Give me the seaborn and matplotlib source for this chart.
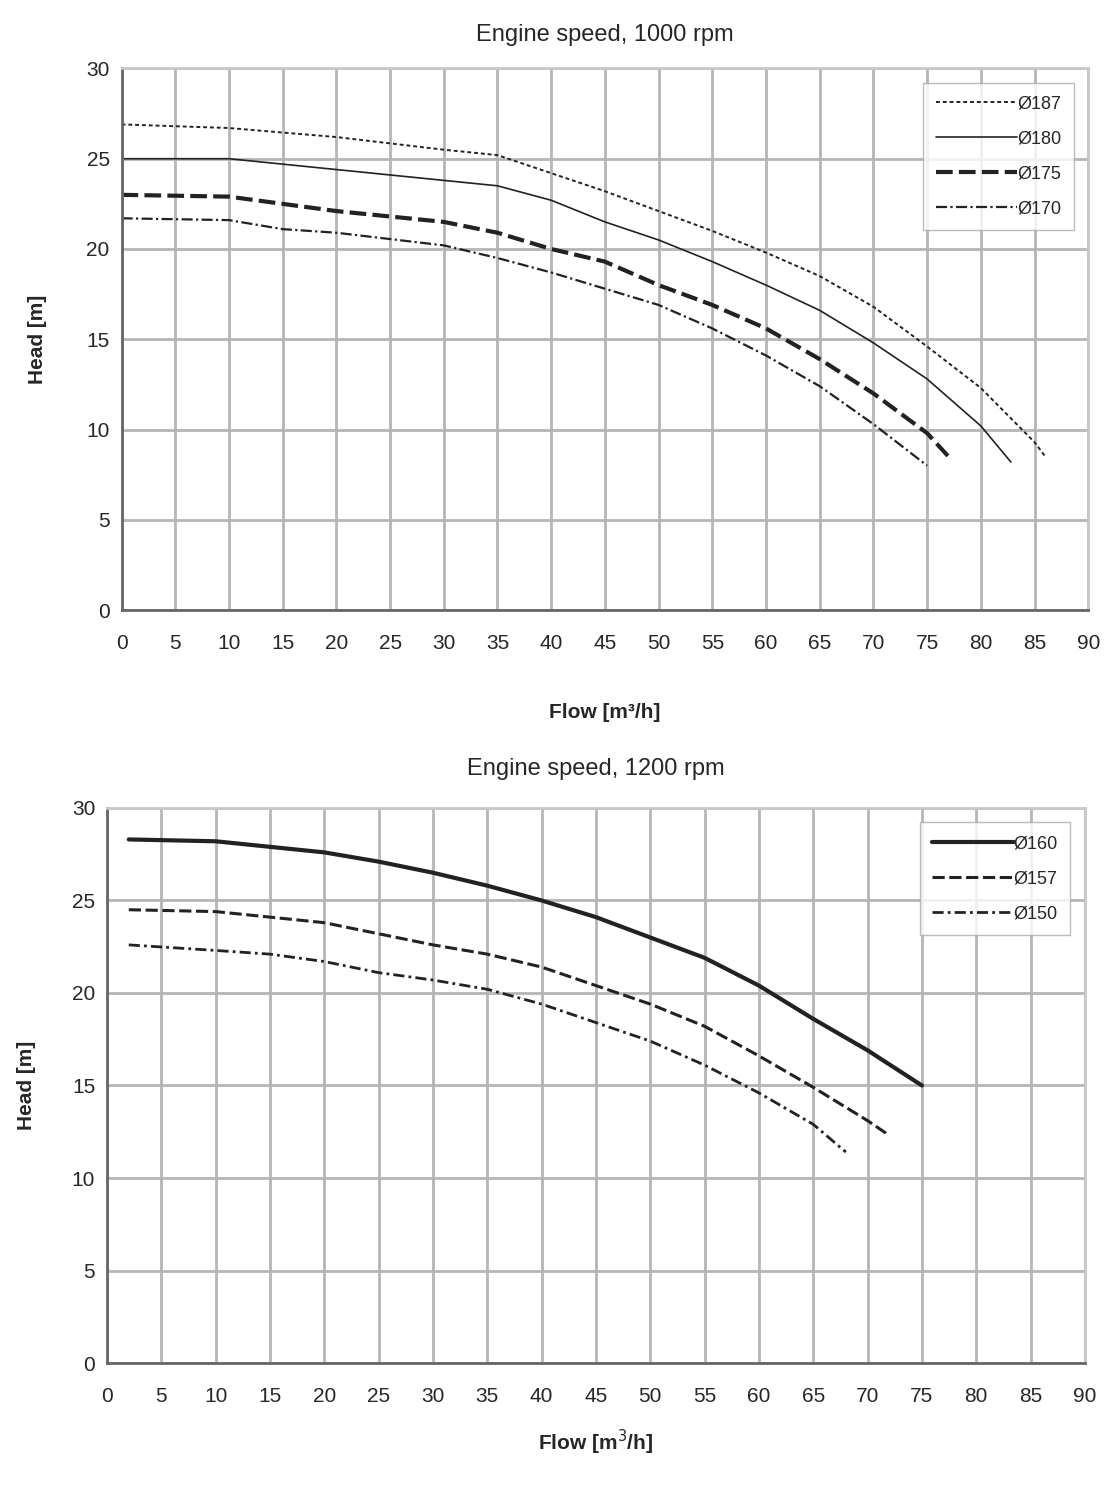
import matplotlib

matplotlib.use("Agg")
import matplotlib.pyplot as plt
import numpy as np
import pandas as pd
import seaborn as sns

sns.set_style("white")
plt.rcParams["font.family"] = ["Liberation Sans", "DejaVu Sans"]

# Engine speed 1000 rpm
flow_187 = [0, 10, 20, 30, 35, 40, 45, 50, 55, 60, 65, 70, 75, 80, 85, 86]
head_187 = [26.9, 26.7, 26.2, 25.5, 25.2, 24.2, 23.2, 22.1, 21.0, 19.8, 18.5, 16.8, 14.6, 12.3, 9.3, 8.5]
flow_180 = [0, 10, 20, 30, 35, 40, 45, 50, 55, 60, 65, 70, 75, 80, 82.8]
head_180 = [25.0, 25.0, 24.4, 23.8, 23.5, 22.7, 21.5, 20.5, 19.3, 18.0, 16.6, 14.8, 12.8, 10.2, 8.2]
flow_175 = [0, 10, 20, 30, 35, 40, 45, 50, 55, 60, 65, 70, 75, 77.3]
head_175 = [23.0, 22.9, 22.1, 21.5, 20.9, 20.0, 19.3, 18.0, 16.9, 15.6, 13.9, 12.0, 9.8, 8.3]
flow_170 = [0, 10, 15, 20, 30, 35, 40, 45, 50, 55, 60, 65, 70, 75]
head_170 = [21.7, 21.6, 21.1, 20.9, 20.2, 19.5, 18.7, 17.8, 16.9, 15.6, 14.1, 12.4, 10.3, 8.0]

# Engine speed 1200 rpm
flow_160 = [2, 10, 15, 20, 25, 30, 35, 40, 45, 50, 55, 60, 65, 70, 75]
head_160 = [28.3, 28.2, 27.9, 27.6, 27.1, 26.5, 25.8, 25.0, 24.1, 23.0, 21.9, 20.4, 18.6, 16.9, 15.0]
flow_157 = [2, 10, 20, 25, 30, 35, 40, 45, 50, 55, 60, 65, 70, 72]
head_157 = [24.5, 24.4, 23.8, 23.2, 22.6, 22.1, 21.4, 20.4, 19.4, 18.2, 16.6, 14.9, 13.1, 12.3]
flow_150 = [2, 10, 15, 20, 25, 30, 35, 40, 45, 50, 55, 60, 65, 68]
head_150 = [22.6, 22.3, 22.1, 21.7, 21.1, 20.7, 20.2, 19.4, 18.4, 17.4, 16.1, 14.6, 12.9, 11.4]

top_series = [
    ("Ø187", flow_187, head_187, (0, (2, 1.5)), 1.4),
    ("Ø180", flow_180, head_180, "-", 1.2),
    ("Ø175", flow_175, head_175, (0, (4, 1.5)), 3.0),
    ("Ø170", flow_170, head_170, (0, (5, 1.5, 1, 1.5)), 1.6),
]
bottom_series = [
    ("Ø160", flow_160, head_160, "-", 3.0),
    ("Ø157", flow_157, head_157, (0, (4, 1.5)), 2.2),
    ("Ø150", flow_150, head_150, (0, (4, 1.5, 1, 1.5)), 2.0),
]


def draw(axis, series, title, xlabel, title_pad, xlabel_pad, ylabel_pad):
    for label, flow, head, dash, width in series:
        frame = pd.DataFrame({"Flow": flow, "Head": head})
        sns.lineplot(
            data=frame, x="Flow", y="Head", ax=axis, color="#222222",
            linestyle=dash, linewidth=width, label=label,
        )
    axis.set_xlim(0, 90)
    axis.set_ylim(0, 30)
    axis.set_xticks(np.arange(0, 91, 5))
    axis.set_yticks(np.arange(0, 31, 5))
    axis.grid(True, color="#b5b5b5", linewidth=2)
    axis.set_axisbelow(True)
    for side in ("top", "right"):
        axis.spines[side].set_color("#c8c8c8")
        axis.spines[side].set_linewidth(2)
    for side in ("left", "bottom"):
        axis.spines[side].set_color("#666666")
        axis.spines[side].set_linewidth(2)
    axis.tick_params(labelsize=15, length=5, color="#666666")
    axis.tick_params(axis="x", pad=12)
    axis.set_title(title, fontsize=17, pad=title_pad)
    axis.set_xlabel(xlabel, fontsize=15, fontweight="bold", labelpad=xlabel_pad)
    axis.set_ylabel("Head [m]", fontsize=15, fontweight="bold", labelpad=ylabel_pad)
    axis.legend(
        loc="upper right", fontsize=13, frameon=True, fancybox=False,
        edgecolor="#aaaaaa", handlelength=4.5, handletextpad=0.0,
        borderaxespad=0.8, labelspacing=1.0, borderpad=0.7,
    )


figure = plt.figure(figsize=(11.15, 14.88), dpi=100)
top = figure.add_axes([0.109, 0.590, 0.867, 0.364])
bottom = figure.add_axes([0.096, 0.084, 0.877, 0.373])
draw(top, top_series, "Engine speed, 1000 rpm", "Flow [m³/h]", 20, 36, 28)
draw(bottom, bottom_series, "Engine speed, 1200 rpm", "Flow [m$^3$/h]", 24, 16, 26)
figure.savefig("out.png", dpi=100)
